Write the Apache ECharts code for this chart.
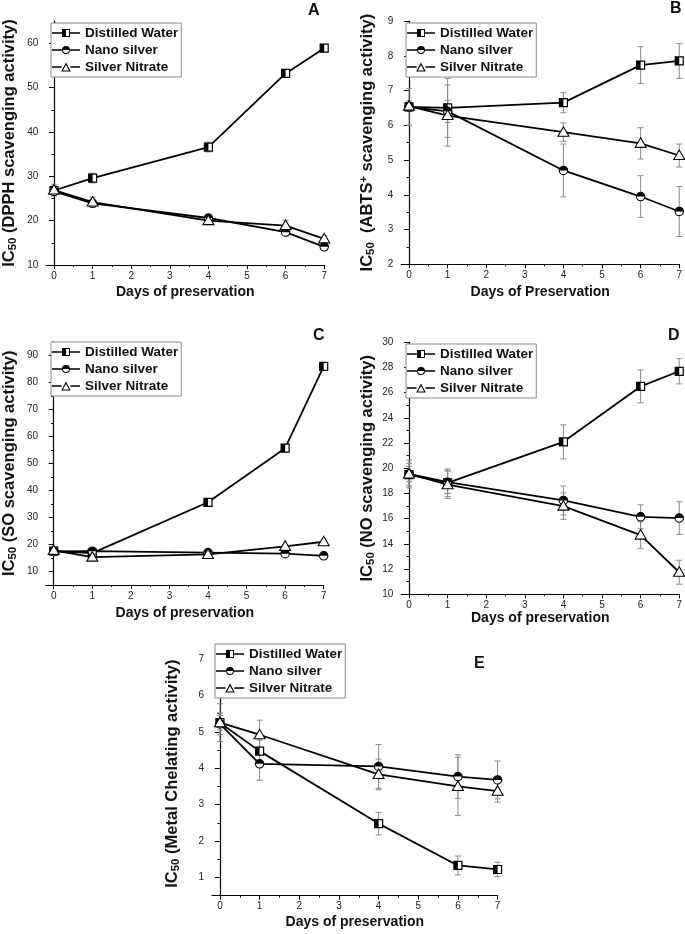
<!DOCTYPE html>
<html>
<head>
<meta charset="utf-8">
<script src="https://cdn.jsdelivr.net/npm/echarts@6/dist/echarts.min.js"></script>
<style>html,body{margin:0;padding:0;background:#fff}#c{width:685px;height:934px}</style>
</head>
<body>
<div id="c"></div>
<script>
// ---------- data ----------
const days = [0, 1, 4, 6, 7];
const seriesNames = ['Distilled Water', 'Nano silver', 'Silver Nitrate'];
const xTicks = [0, 1, 2, 3, 4, 5, 6, 7];

// Panel A: DPPH
const aDistilled = [26.8, 29.6, 36.6, 53.2, 58.9];
const aDistilledErr = [1.0, 1.1, 1.1, 0.9, 0.8];
const aNano = [26.6, 23.9, 20.6, 17.4, 14.1];
const aNanoErr = [1.0, 0.8, 0.7, 0.7, 0.6];
const aNitrate = [26.9, 24.2, 20.0, 18.9, 15.9];
const aNitrateErr = [1.3, 1.1, 0.9, 1.2, 0.7];
const aYTicks = [10, 20, 30, 40, 50, 60];

// Panel B: ABTS+
const bDistilled = [6.53, 6.50, 6.65, 7.73, 7.85];
const bDistilledErr = [0.53, 0.85, 0.29, 0.53, 0.50];
const bNano = [6.53, 6.40, 4.70, 3.95, 3.52];
const bNanoErr = [0.10, 0.32, 0.76, 0.60, 0.72];
const bNitrate = [6.55, 6.28, 5.80, 5.48, 5.13];
const bNitrateErr = [0.15, 0.88, 0.27, 0.45, 0.33];
const bYTicks = [2, 3, 4, 5, 6, 7, 8, 9];

// Panel C: SO
const cDistilled = [17.5, 16.8, 35.6, 55.6, 85.9];
const cDistilledErr = [0.8, 0.8, 0.9, 1.0, 1.0];
const cNano = [17.4, 17.5, 17.0, 16.6, 15.8];
const cNanoErr = [0.6, 0.6, 0.6, 0.6, 0.6];
const cNitrate = [17.8, 15.3, 16.3, 19.3, 21.0];
const cNitrateErr = [0.7, 0.7, 0.6, 0.7, 0.7];
const cYTicks = [10, 20, 30, 40, 50, 60, 70, 80, 90];

// Panel D: NO
const dDistilled = [19.5, 18.85, 22.1, 26.5, 27.7];
const dDistilledErr = [0.9, 1.1, 1.35, 1.3, 1.0];
const dNano = [19.55, 18.9, 17.45, 16.15, 16.05];
const dNanoErr = [1.1, 0.9, 1.15, 0.95, 1.3];
const dNitrate = [19.55, 18.7, 17.0, 14.7, 11.75];
const dNitrateErr = [0.6, 1.1, 1.05, 1.05, 0.95];
const dYTicks = [10, 12, 14, 16, 18, 20, 22, 24, 26, 28, 30];

// Panel E: Metal chelating
const eDistilled = [5.25, 4.47, 2.48, 1.33, 1.22];
const eDistilledErr = [0.2, 0.3, 0.31, 0.26, 0.2];
const eNano = [5.22, 4.12, 4.05, 3.77, 3.68];
const eNanoErr = [0.3, 0.45, 0.6, 0.6, 0.52];
const eNitrate = [5.25, 4.92, 3.83, 3.5, 3.37];
const eNitrateErr = [0.52, 0.4, 0.42, 0.8, 0.3];
const eYTicks = [1, 2, 3, 4, 5, 6, 7];

// ---------- layout / styling ----------
const FONT = 'Liberation Sans, Arial, sans-serif';
const panels = [
  { letter: 'A', vals: [aDistilled, aNano, aNitrate], errs: [aDistilledErr, aNanoErr, aNitrateErr], yTicks: aYTicks,
    yMin: 10, yMax: 65, grid: { left: 46.3, top: 21.1, width: 277.9, height: 243.9 },
    yName: '{n|IC}{s|50}{n| (DPPH scavenging activity)}', yGap: 27, xName: 'Days of preservation', xGap: 20,
    legend: { left: 51, top: 23 }, title: { left: 308, top: 3 } },
  { letter: 'B', vals: [bDistilled, bNano, bNitrate], errs: [bDistilledErr, bNanoErr, bNitrateErr], yTicks: bYTicks,
    yMin: 2, yMax: 9, grid: { left: 401.3, top: 21, width: 278, height: 243.3 },
    yName: '{n|IC}{s|50}{n|  (ABTS}{p|+}{n| scavenging activity)}', yGap: 24, xName: 'Days of Preservation', xGap: 21,
    legend: { left: 406, top: 23 }, title: { left: 670, top: 1 } },
  { letter: 'C', vals: [cDistilled, cNano, cNitrate], errs: [cDistilledErr, cNanoErr, cNitrateErr], yTicks: cYTicks,
    yMin: 5, yMax: 95, grid: { left: 45.7, top: 341.7, width: 278, height: 243.3 },
    yName: '{n|IC}{s|50}{n| (SO scavenging activity)}', yGap: 27, xName: 'Days of preservation', xGap: 21,
    legend: { left: 51, top: 342 }, title: { left: 313, top: 328 } },
  { letter: 'D', vals: [dDistilled, dNano, dNitrate], errs: [dDistilledErr, dNanoErr, dNitrateErr], yTicks: dYTicks,
    yMin: 10, yMax: 30, grid: { left: 401.3, top: 342.3, width: 278, height: 252 },
    yName: '{n|IC}{s|50}{n| (NO scavenging activity)}', yGap: 24, xName: 'Days of preservation', xGap: 12,
    legend: { left: 406, top: 344 }, title: { left: 668, top: 328 } },
  { letter: 'E', vals: [eDistilled, eNano, eNitrate], errs: [eDistilledErr, eNanoErr, eNitrateErr], yTicks: eYTicks,
    yMin: 0.5, yMax: 7.2, grid: { left: 212, top: 651.7, width: 285.6, height: 244 },
    yName: '{n|IC}{s|50}{n| (Metal Chelating activity)}', yGap: 30, xName: 'Days of preservation', xGap: 19,
    legend: { left: 215, top: 644 }, title: { left: 474, top: 656 } }
];

const markerKinds = ['square', 'circle', 'triangle'];
const iconBounds = ' M0 0L0.01 0L0 0.01Z M28 10L27.99 10L28 9.99Z';
const legendIcons = [
  'path://M0 4.2L10 4.2L10 5.8L0 5.8Z M18 4.2L28 4.2L28 5.8L18 5.8Z M10 1L14 1L14 9L10 9Z M14 1L18 1L18 9L14 9Z M14 2L14 8L17 8L17 2Z' + iconBounds,
  'path://M0 4.2L10 4.2L10 5.8L0 5.8Z M18 4.2L28 4.2L28 5.8L18 5.8Z M10 5A4 4 0 0 1 18 5Z M18 5A4 4 0 0 1 10 5Z M11 5A3 3 0 0 0 17 5Z' + iconBounds,
  'path://M0 4.2L9.6 4.2L9.6 5.8L0 5.8Z M18.4 4.2L28 4.2L28 5.8L18.4 5.8Z M14 0.6L18.8 9.4L9.2 9.4Z M14 2.9L10.9 8.4L17.1 8.4Z' + iconBounds
];

function markerRender(kind) {
  return function (params, api) {
    const p = api.coord([api.value(0), api.value(1)]);
    const x = p[0], y = p[1];
    if (kind === 'square') {
      return { type: 'group', children: [
        { type: 'rect', shape: { x: x - 4, y: y - 4, width: 8, height: 8 }, style: { fill: '#fff', stroke: '#000', lineWidth: 1.2 } },
        { type: 'rect', shape: { x: x - 4, y: y - 4, width: 4, height: 8 }, style: { fill: '#000' } }
      ] };
    }
    if (kind === 'circle') {
      return { type: 'group', children: [
        { type: 'circle', shape: { cx: x, cy: y, r: 4.2 }, style: { fill: '#fff', stroke: '#000', lineWidth: 1.1 } },
        { type: 'sector', shape: { cx: x, cy: y, r0: 0, r: 4.2, startAngle: Math.PI, endAngle: 2 * Math.PI }, style: { fill: '#000' } }
      ] };
    }
    return { type: 'polygon', shape: { points: [[x, y - 5.5], [x + 5.5, y + 4], [x - 5.5, y + 4]] },
      style: { fill: '#fff', stroke: '#000', lineWidth: 1.1 } };
  };
}

function errRender(params, api) {
  const x = api.value(0), v = api.value(1), e = api.value(2);
  const lo = api.coord([x, v - e]);
  const hi = api.coord([x, v + e]);
  const st = { stroke: '#8a8a8a', lineWidth: 1 };
  return { type: 'group', children: [
    { type: 'line', shape: { x1: lo[0], y1: lo[1], x2: hi[0], y2: hi[1] }, style: st },
    { type: 'line', shape: { x1: lo[0] - 3, y1: lo[1], x2: lo[0] + 3, y2: lo[1] }, style: st },
    { type: 'line', shape: { x1: hi[0] - 3, y1: hi[1], x2: hi[0] + 3, y2: hi[1] }, style: st }
  ] };
}

function midpoints(arr) {
  const out = [];
  for (let i = 0; i < arr.length - 1; i++) out.push((arr[i] + arr[i + 1]) / 2);
  return out;
}

const option = { animation: false, backgroundColor: '#fff', grid: [], xAxis: [], yAxis: [], series: [], legend: [], title: [] };

panels.forEach(function (pn, gi) {
  option.grid.push(Object.assign({ containLabel: false }, pn.grid));
  const xi = option.xAxis.length, yi = option.yAxis.length;
  const labelStyle = { color: '#222', fontSize: 10, fontFamily: FONT };
  option.xAxis.push({
    type: 'value', gridIndex: gi, position: 'bottom', min: -0.2, max: 7,
    axisLine: { show: true, lineStyle: { color: '#000', width: 1.2 } },
    axisTick: { show: true, length: 4, customValues: xTicks, lineStyle: { color: '#000', width: 1 } },
    axisLabel: Object.assign({ show: true, margin: 6, customValues: xTicks }, labelStyle),
    splitLine: { show: false },
    name: pn.xName, nameLocation: 'middle', nameGap: pn.xGap,
    nameTextStyle: { fontFamily: FONT, fontWeight: 'bold', fontSize: 14, color: '#111' }
  });
  option.xAxis.push({
    type: 'value', gridIndex: gi, position: 'bottom', min: -0.2, max: 7,
    axisLine: { show: false },
    axisTick: { show: true, length: 2, customValues: midpoints(xTicks), lineStyle: { color: '#000', width: 1 } },
    axisLabel: { show: false }, splitLine: { show: false }
  });
  option.yAxis.push({
    type: 'value', gridIndex: gi, position: 'left', min: pn.yMin, max: pn.yMax,
    axisLine: { show: true, lineStyle: { color: '#000', width: 1.2 } },
    axisTick: { show: true, length: 5, customValues: pn.yTicks, lineStyle: { color: '#000', width: 1 } },
    axisLabel: Object.assign({ show: true, margin: 8, customValues: pn.yTicks }, labelStyle),
    splitLine: { show: false },
    name: pn.yName, nameLocation: 'middle', nameRotate: 90, nameGap: pn.yGap,
    nameTextStyle: {
      fontFamily: FONT, fontWeight: 'bold', fontSize: 16.5, color: '#111',
      rich: {
        n: { fontFamily: FONT, fontWeight: 'bold', fontSize: 16.5, color: '#111', lineHeight: 19 },
        s: { fontFamily: FONT, fontWeight: 'bold', fontSize: 11.5, color: '#111', lineHeight: 12, verticalAlign: 'bottom' },
        p: { fontFamily: FONT, fontWeight: 'bold', fontSize: 11, color: '#111', lineHeight: 12, verticalAlign: 'top' }
      }
    }
  });
  option.yAxis.push({
    type: 'value', gridIndex: gi, position: 'left', min: pn.yMin, max: pn.yMax,
    axisLine: { show: false },
    axisTick: { show: true, length: 2.5, customValues: midpoints(pn.yTicks), lineStyle: { color: '#000', width: 1 } },
    axisLabel: { show: false }, splitLine: { show: false }
  });

  // error bars
  pn.vals.forEach(function (vals, si) {
    option.series.push({
      type: 'custom', name: 'err-' + gi + '-' + si, xAxisIndex: xi, yAxisIndex: yi, z: 1,
      renderItem: errRender,
      data: days.map(function (d, k) { return [d, vals[k], pn.errs[si][k]]; })
    });
  });
  // lines
  pn.vals.forEach(function (vals, si) {
    option.series.push({
      type: 'line', name: seriesNames[si], xAxisIndex: xi, yAxisIndex: yi, z: 2,
      showSymbol: false, symbol: 'none', color: '#000',
      lineStyle: { color: '#000', width: 1.8 },
      data: days.map(function (d, k) { return [d, vals[k]]; })
    });
  });
  // markers
  pn.vals.forEach(function (vals, si) {
    option.series.push({
      type: 'custom', name: 'mk-' + gi + '-' + si, xAxisIndex: xi, yAxisIndex: yi, z: 3,
      renderItem: markerRender(markerKinds[si]),
      data: days.map(function (d, k) { return [d, vals[k]]; })
    });
  });

  option.legend.push({
    orient: 'vertical', left: pn.legend.left, top: pn.legend.top,
    data: seriesNames.map(function (n, i) { return { name: n, icon: legendIcons[i] }; }),
    itemWidth: 28, itemHeight: 10, itemGap: 1, itemStyle: { color: '#000', borderWidth: 0 },
    padding: [2, 3, 2, 1], borderColor: '#8a8a8a', borderWidth: 1, backgroundColor: '#fff',
    selectedMode: false,
    textStyle: { fontFamily: FONT, fontWeight: 'bold', fontSize: 13.5, color: '#111', lineHeight: 16 }
  });
  option.title.push({
    text: pn.letter, left: pn.title.left, top: pn.title.top, padding: 0,
    textStyle: { fontFamily: FONT, fontWeight: 'bold', fontSize: 16, color: '#111' }
  });
});

const chart = echarts.init(document.getElementById('c'), null, { renderer: 'canvas' });
chart.setOption(option);
</script>
</body>
</html>
